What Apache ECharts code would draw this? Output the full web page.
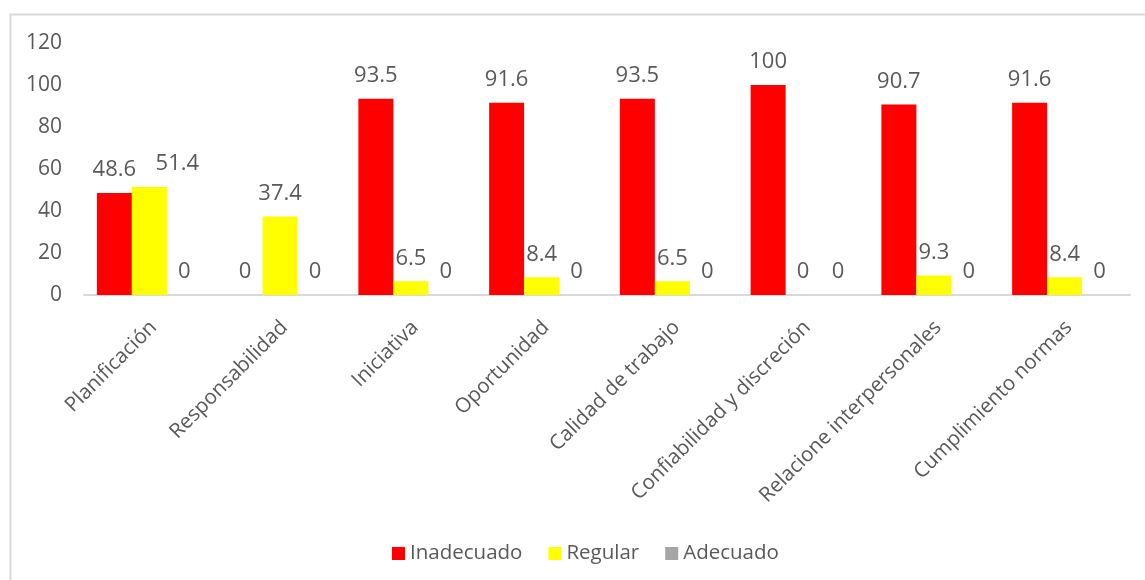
<!DOCTYPE html>
<html>
<head>
<meta charset="utf-8">
<script src="https://cdn.jsdelivr.net/npm/echarts@6/dist/echarts.min.js"></script>
<style>
  html, body { margin: 0; padding: 0; background: #ffffff; }
  #chart { width: 1145px; height: 580px; }
</style>
</head>
<body>
<div id="chart"></div>
<script>
// Evaluation dimensions and percentage per rating level
const categories = [
  'Planificación',
  'Responsabilidad',
  'Iniciativa',
  'Oportunidad',
  'Calidad de trabajo',
  'Confiabilidad y discreción',
  'Relacione interpersonales',
  'Cumplimiento normas'
];
const inadecuado = [48.6, 0, 93.5, 91.6, 93.5, 100, 90.7, 91.6];
const regular    = [51.4, 37.4, 6.5, 8.4, 6.5, 0, 9.3, 8.4];
const adecuado   = [0, 0, 0, 0, 0, 0, 0, 0];
const yTicks = { min: 0, max: 120, interval: 20 };

const FONT = '"Open Sans", "Liberation Sans", sans-serif';
const TEXT = '#595959';

// labels nudged sideways so neighbouring values don't collide
const labelNudge = { Regular: { 0: [28, 0] } };

function barSeries(name, values, color) {
  const nudge = labelNudge[name] || {};
  return {
    name: name,
    type: 'bar',
    data: values.map((v, i) => nudge[i]
      ? { value: v, label: { offset: nudge[i] } }
      : v),
    barGap: '0%',
    barCategoryGap: '19.7%',
    itemStyle: { color: color },
    label: {
      show: true,
      position: 'top',
      distance: 12,
      color: TEXT,
      fontFamily: FONT,
      fontSize: 22
    }
  };
}

const chart = echarts.init(document.getElementById('chart'), null, { renderer: 'canvas' });
chart.setOption({
  backgroundColor: '#ffffff',
  animation: false,
  graphic: [{
    type: 'rect',
    left: 8,
    top: 12,
    shape: { width: 1200, height: 620 },
    style: { fill: 'none', stroke: '#d9d9d9', lineWidth: 2 },
    silent: true,
    z: -1
  }],
  grid: { left: 84, right: 15, top: 43, bottom: 285, containLabel: false },
  legend: {
    left: 387,
    top: 538,
    itemWidth: 13,
    itemHeight: 13,
    itemGap: 26,
    icon: 'rect',
    textStyle: { color: TEXT, fontFamily: FONT, fontSize: 20.5 },
    data: ['Inadecuado', 'Regular', 'Adecuado']
  },
  xAxis: {
    type: 'category',
    data: categories,
    axisLine: { show: true, lineStyle: { color: '#d9d9d9', width: 2 } },
    axisTick: { show: false },
    axisLabel: {
      interval: 0,
      rotate: 45,
      margin: 25,
      // an empty leading line pushes each slanted label a little down-right
      formatter: (v) => '{gap| }\n{t|' + v + '}',
      rich: {
        gap: { lineHeight: 12, fontSize: 8 },
        t: { color: TEXT, fontFamily: FONT, fontSize: 20.5, lineHeight: 27 }
      },
      color: TEXT,
      fontFamily: FONT,
      fontSize: 20.5
    }
  },
  yAxis: {
    type: 'value',
    min: yTicks.min,
    max: yTicks.max,
    interval: yTicks.interval,
    axisLine: { show: false },
    axisTick: { show: false },
    splitLine: { show: false },
    axisLabel: { color: TEXT, fontFamily: FONT, fontSize: 21, margin: 22 }
  },
  series: [
    barSeries('Inadecuado', inadecuado, '#ff0000'),
    barSeries('Regular', regular, '#ffff00'),
    barSeries('Adecuado', adecuado, '#a5a5a5')
  ]
});
</script>
</body>
</html>
